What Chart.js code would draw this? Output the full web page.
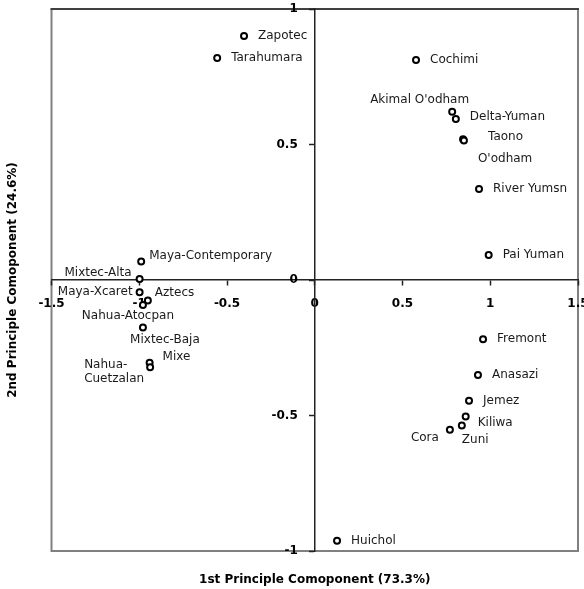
<!DOCTYPE html>
<html>
<head>
<meta charset="utf-8">
<script src="https://cdn.jsdelivr.net/npm/chart.js@4.4.0/dist/chart.umd.min.js"></script>
<style>
  html, body { margin: 0; padding: 0; background: #fff; }
  #caja { width: 584px; height: 589px; position: relative; }
</style>
</head>
<body>
<div id="caja"><canvas id="grafica"></canvas></div>
<script>

/* DATOS */
const grupos = ['Zapotec', 'Tarahumara', 'Cochimi', "Akimal O'odham", 'Delta-Yuman', 'Taono', "O'odham",
  'River Yumsn', 'Pai Yuman', 'Fremont', 'Anasazi', 'Jemez', 'Kiliwa', 'Zuni', 'Cora', 'Huichol',
  'Maya-Contemporary', 'Mixtec-Alta', 'Maya-Xcaret', 'Aztecs', 'Nahua-Atocpan', 'Mixtec-Baja', 'Mixe', 'Nahua-Cuetzalan'];
const comp1 = [-0.403, -0.556, 0.577, 0.783, 0.804, 0.845, 0.850,
  0.936, 0.991, 0.959, 0.930, 0.879, 0.860, 0.838, 0.770, 0.127,
  -0.989, -0.998, -0.998, -0.951, -0.979, -0.979, -0.941, -0.938];
const comp2 = [0.900, 0.819, 0.812, 0.621, 0.594, 0.519, 0.515,
  0.336, 0.092, -0.219, -0.351, -0.446, -0.504, -0.537, -0.553, -0.962,
  0.068, 0.004, -0.045, -0.076, -0.092, -0.175, -0.305, -0.322];
const ticksX = [-1.5, -1, -0.5, 0, 0.5, 1, 1.5];
const ticksY = [-1, -0.5, 0, 0.5, 1];
const tituloX = '1st Principle Comoponent (73.3%)';
const tituloY = '2nd Principle Comoponent (24.6%)';

/* donde va cada nombre respecto a su punto */
const lugarEtiqueta = {
  "Akimal O'odham": { dx: 17, dy: -12, align: 'right' },
  'Delta-Yuman': { dy: -2 },
  'Taono': { dx: 25, dy: -2 },
  "O'odham": { dx: 14, dy: 18 },
  'Kiliwa': { dx: 12, dy: 6 },
  'Zuni': { dx: 0, dy: 14 },
  'Cora': { dx: -11, dy: 8, align: 'right' },
  'Maya-Contemporary': { dx: 8, dy: -6 },
  'Mixtec-Alta': { dx: -8, dy: -6, align: 'right' },
  'Maya-Xcaret': { dx: -7, dy: 0, align: 'right' },
  'Aztecs': { dx: 7, dy: -8 },
  'Nahua-Atocpan': { dx: -15, dy: 11, align: 'center' },
  'Mixtec-Baja': { dx: 22, dy: 12, align: 'center' },
  'Mixe': { dx: 13, dy: -6 },
  'Nahua-Cuetzalan': { dx: -66, dy: -2, align: 'left', lineas: ['Nahua-', 'Cuetzalan'] }
};

const fuente = '"DejaVu Sans", Verdana, sans-serif';

/* marco del grafico */
const marco = {
  id: 'marco',
  beforeDraw(chart) {
    const { ctx, chartArea: a } = chart;
    ctx.save();
    ctx.lineWidth = 2;
    ctx.strokeStyle = '#808080';
    ctx.beginPath();
    ctx.moveTo(a.left, a.top);
    ctx.lineTo(a.left, a.bottom);
    ctx.lineTo(a.right, a.bottom);
    ctx.lineTo(a.right, a.top);
    ctx.stroke();
    ctx.strokeStyle = '#404040';
    ctx.beginPath();
    ctx.moveTo(a.left - 1, a.top);
    ctx.lineTo(a.right + 1, a.top);
    ctx.stroke();
    ctx.restore();
  }
};

/* nombres de los puntos, ticks del eje y y titulos */
const textos = {
  id: 'textos',
  afterDraw(chart) {
    const ctx = chart.ctx;
    const escX = chart.scales.x;
    const escY = chart.scales.y;
    const a = chart.chartArea;
    const puntos = chart.getDatasetMeta(0).data;

    ctx.save();
    ctx.fillStyle = '#1a1a1a';
    ctx.textBaseline = 'middle';
    ctx.font = '12px ' + fuente;
    puntos.forEach((p, i) => {
      const lugar = lugarEtiqueta[grupos[i]] || {};
      const dx = lugar.dx !== undefined ? lugar.dx : 14;
      const dy = lugar.dy !== undefined ? lugar.dy : 0;
      const lineas = lugar.lineas || [grupos[i]];
      ctx.textAlign = lugar.align || 'left';
      lineas.forEach((t, j) => {
        ctx.fillText(t, p.x + dx, p.y + dy + j * 13.3);
      });
    });

    // ticks eje y pegados al eje vertical
    ctx.fillStyle = '#000';
    ctx.font = 'bold 12px ' + fuente;
    ctx.textAlign = 'right';
    const x0 = escX.getPixelForValue(0);
    escY.ticks.forEach(t => {
      ctx.fillText(String(t.value), x0 - 17, escY.getPixelForValue(t.value));
    });

    // titulos
    ctx.textAlign = 'center';
    ctx.fillText(tituloX, (a.left + a.right) / 2, 580);
    ctx.translate(12.5, (a.top + a.bottom) / 2);
    ctx.rotate(-Math.PI / 2);
    ctx.fillText(tituloY, 0, 0);
    ctx.restore();
  }
};

const sinRelleno = scale => {
  scale.paddingLeft = 0;
  scale.paddingRight = 0;
  scale.paddingTop = 0;
  scale.paddingBottom = 0;
};

new Chart(document.getElementById('grafica'), {
  type: 'scatter',
  data: {
    datasets: [{
      data: grupos.map((g, i) => ({ x: comp1[i], y: comp2[i] })),
      pointRadius: 3,
      borderWidth: 2,
      borderColor: '#000',
      backgroundColor: '#fff',
      clip: false
    }]
  },
  options: {
    responsive: true,
    maintainAspectRatio: false,
    animation: false,
    events: [],
    layout: { padding: { left: 51.5, right: 4, top: 9, bottom: 38 } },
    plugins: {
      legend: { display: false },
      tooltip: { enabled: false }
    },
    scales: {
      x: {
        type: 'linear',
        position: { y: 0 },
        z: 1,
        min: -1.5,
        max: 1.5,
        afterBuildTicks: scale => { scale.ticks = ticksX.map(v => ({ value: v })); },
        afterFit: sinRelleno,
        ticks: {
          color: '#000',
          padding: 12,
          maxRotation: 0,
          autoSkip: false,
          font: { family: fuente, size: 12, weight: 'bold' },
          callback: v => String(v)
        },
        grid: { drawOnChartArea: false, drawTicks: true, tickLength: 5, tickWidth: 1.5, tickColor: '#222' },
        border: { display: true, color: '#222', width: 1.5 }
      },
      y: {
        type: 'linear',
        position: { x: 0 },
        min: -1,
        max: 1,
        afterBuildTicks: scale => { scale.ticks = ticksY.map(v => ({ value: v })); },
        afterFit: sinRelleno,
        ticks: { display: false },
        grid: { drawOnChartArea: false, drawTicks: true, tickLength: 5, tickWidth: 1.5, tickColor: '#222' },
        border: { display: true, color: '#222', width: 1.5 }
      }
    }
  },
  plugins: [marco, textos]
});
</script>
</body>
</html>
